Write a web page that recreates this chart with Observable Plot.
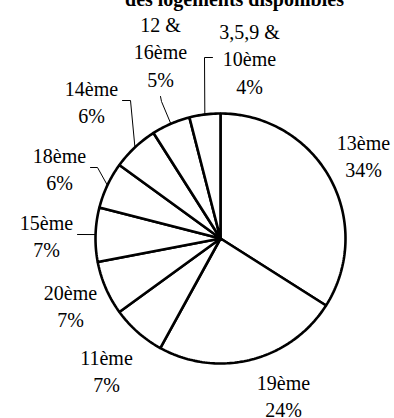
<!DOCTYPE html>
<html>
<head>
<meta charset="utf-8">
<script src="https://cdn.jsdelivr.net/npm/d3@7"></script>
<script src="https://cdn.jsdelivr.net/npm/@observablehq/plot@0.6"></script>
<style>
  html, body { margin: 0; padding: 0; background: #fff; }
  #chart svg { display: block; }
</style>
</head>
<body>
<div id="chart"></div>
<script>
// Arrondissements, clockwise from 12 o'clock
const districts = ["13ème", "19ème", "11ème", "20ème", "15ème", "18ème", "14ème", "12 &\n16ème", "3,5,9 &\n10ème"];
// Share of available housing (%)
const shares = [34, 24, 7, 7, 7, 6, 6, 5, 4];
const titleText = "des logements disponibles";

// Layout (pixel offsets from the pie centre)
const W = 394, H = 418;
const CX = 220, CY = 238, R = 125;
const labelPos = [
  [143, -84], [63, 156], [-114, 131], [-150, 66], [-174, -4],
  [-161, -71], [-129, -138], [-60, -188], [29, -181]
];
// Leader lines: extra bend points after the slice edge, by slice index
const leaderBends = {
  4: [[-143, -4]],
  5: [[-123, -71], [-130, -71]],
  6: [[-90, -138], [-98, -138]],
  7: [[-59, -137], [-60, -142]],
  8: [[-16, -181], [-8, -181]]
};

const pie = d3.pie().sort(null).value(d => d.value)(
  districts.map((name, i) => ({name, value: shares[i], i}))
);

const pt = (a, r) => [r * Math.sin(a), -r * Math.cos(a)];

// Slice outlines: centre -> arc -> centre
const slicePts = [];
pie.forEach((s, i) => {
  slicePts.push({k: i, x: 0, y: 0});
  const n = Math.max(4, Math.ceil((s.endAngle - s.startAngle) / 0.02));
  for (let j = 0; j <= n; j++) {
    const a = s.startAngle + (s.endAngle - s.startAngle) * j / n;
    const [x, y] = pt(a, R);
    slicePts.push({k: i, x, y});
  }
  slicePts.push({k: i, x: 0, y: 0});
});

const leaderPts = [];
Object.entries(leaderBends).forEach(([i, bends]) => {
  const s = pie[+i];
  const [x, y] = pt((s.startAngle + s.endAngle) / 2, R);
  leaderPts.push({k: +i, x, y});
  bends.forEach(([bx, by]) => leaderPts.push({k: +i, x: bx, y: by}));
});

const labels = pie.map((s, i) => ({
  x: labelPos[i][0], y: labelPos[i][1],
  text: `${districts[i]}\n${shares[i]}%`
}));

const chart = Plot.plot({
  width: W, height: H,
  margin: 0,
  x: {domain: [-CX, W - CX], range: [0, W], axis: null},
  y: {domain: [-CY, H - CY], range: [0, H], axis: null},
  style: {fontFamily: "'Liberation Serif', 'Times New Roman', serif", background: "#fff"},
  marks: [
    Plot.line(slicePts, {x: "x", y: "y", z: "k", fill: "white", stroke: "black", strokeWidth: 2.6, strokeLinejoin: "miter"}),
    Plot.line(leaderPts, {x: "x", y: "y", z: "k", stroke: "black", strokeWidth: 1}),
    Plot.text(labels, {x: "x", y: "y", text: "text", fontSize: 20, lineHeight: 1.37, lineAnchor: "middle", textAnchor: "middle", fill: "black"}),
    Plot.text([titleText], {x: () => 14, y: () => 5 - CY, text: d => d, fontSize: 20, fontWeight: "bold", lineAnchor: "bottom", textAnchor: "middle", fill: "black"})
  ]
});
document.getElementById("chart").append(chart);
</script>
</body>
</html>
